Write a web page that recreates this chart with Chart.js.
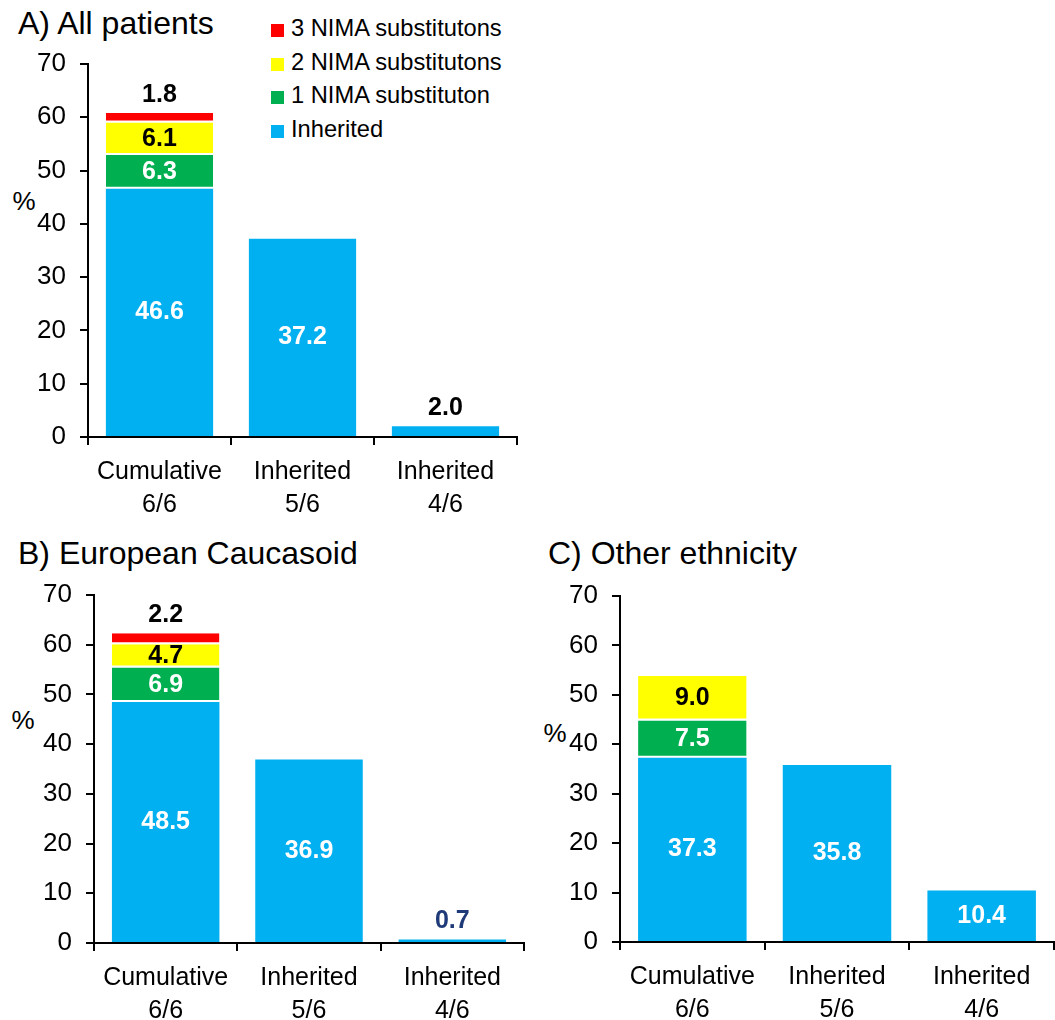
<!DOCTYPE html>
<html>
<head>
<meta charset="utf-8">
<script src="https://cdn.jsdelivr.net/npm/chart.js@4.4.1/dist/chart.umd.min.js"></script>
<style>
  html, body { margin: 0; padding: 0; background: #fff; }
  body { width: 1055px; height: 1020px; position: relative; overflow: hidden;
         font-family: "Liberation Sans", Arial, sans-serif; color: #000; }
  canvas { position: absolute; }
  .title { position: absolute; font-size: 32px; line-height: 36px; white-space: nowrap; }
  .pct { position: absolute; font-size: 26px; line-height: 30px; transform: translate(-50%, -50%); }
  .legend { position: absolute; left: 271px; top: 12px; font-size: 23.7px; }
  .legend div { height: 33.7px; line-height: 33.7px; white-space: nowrap; }
  .legend span.sw { display: inline-block; width: 13px; height: 13px; margin-right: 7px; vertical-align: -1px; }
</style>
</head>
<body>
<div class="title" style="left:18px; top:5px;">A) All patients</div>
<div class="title" style="left:18px; top:535px;">B) European Caucasoid</div>
<div class="title" style="left:548px; top:535px;">C) Other ethnicity</div>
<div class="pct" style="left:24px; top:201px;">%</div>
<div class="pct" style="left:23px; top:720px;">%</div>
<div class="pct" style="left:555px; top:733px;">%</div>
<div class="legend" id="legend"></div>

<canvas id="chartA" width="530" height="525" style="left:0; top:0;"></canvas>
<canvas id="chartB" width="530" height="495" style="left:0; top:525px;"></canvas>
<canvas id="chartC" width="525" height="495" style="left:530px; top:525px;"></canvas>

<script>
// Categories (two-line labels) and y-axis range
const categories = [['Cumulative', '6/6'], ['Inherited', '5/6'], ['Inherited', '4/6']];
const yMin = 0;
const yMax = 70;
const yStep = 10;

// Series names, top of the legend first
const seriesNames = ['3 NIMA substitutons', '2 NIMA substitutons', '1 NIMA substituton', 'Inherited'];

// A) All patients
const allInherited = [46.6, 37.2, 2.0];
const allOneNima   = [6.3, null, null];
const allTwoNima   = [6.1, null, null];
const allThreeNima = [1.8, null, null];

// B) European Caucasoid
const eurInherited = [48.5, 36.9, 0.7];
const eurOneNima   = [6.9, null, null];
const eurTwoNima   = [4.7, null, null];
const eurThreeNima = [2.2, null, null];

// C) Other ethnicity
const othInherited = [37.3, 35.8, 10.4];
const othOneNima   = [7.5, null, null];
const othTwoNima   = [9.0, null, null];
const othThreeNima = [null, null, null];

const BLUE = '#00B0F0', GREEN = '#00B050', YELLOW = '#FFFF00', RED = '#FF0000';
const FONT = '"Liberation Sans", Arial, sans-serif';

// HTML legend
const swatches = [RED, YELLOW, GREEN, BLUE];
document.getElementById('legend').innerHTML = seriesNames.map((n, i) =>
  '<div><span class="sw" style="background:' + swatches[i] + '"></span>' + n + '</div>').join('');

// Value labels: inside the segment when it is tall enough, otherwise above it
const valueLabels = {
  id: 'valueLabels',
  afterDatasetsDraw(chart) {
    const ctx = chart.ctx;
    ctx.save();
    ctx.font = 'bold 25px ' + FONT;
    ctx.textAlign = 'center';
    ctx.textBaseline = 'middle';
    chart.data.datasets.forEach((ds, di) => {
      const meta = chart.getDatasetMeta(di);
      meta.data.forEach((el, i) => {
        const v = ds.data[i];
        if (v === null || v === undefined) return;
        const h = el.base - el.y;
        const txt = v.toFixed(1);
        if (h >= 18) {
          ctx.fillStyle = ds.labelColor;
          ctx.fillText(txt, el.x, (el.y + el.base) / 2);
        } else {
          ctx.fillStyle = ds.outsideColor;
          ctx.fillText(txt, el.x, el.y - 18);
        }
      });
    });
    ctx.restore();
  }
};

function makeChart(id, inherited, one, two, three, geo, smallColor) {
  const seg = (label, data, color, labelColor, outsideColor, bordered) => ({
    label, data, backgroundColor: color,
    borderColor: '#FFFFFF',
    borderWidth: bordered ? { top: 0, left: 0, right: 0, bottom: 2 } : 0,
    borderSkipped: false,
    labelColor, outsideColor
  });
  return new Chart(document.getElementById(id), {
    type: 'bar',
    data: {
      labels: categories,
      datasets: [
        seg(seriesNames[3], inherited, BLUE, '#FFFFFF', smallColor, false),
        seg(seriesNames[2], one, GREEN, '#FFFFFF', '#000000', true),
        seg(seriesNames[1], two, YELLOW, '#000000', '#000000', true),
        seg(seriesNames[0], three, RED, '#000000', '#000000', true)
      ]
    },
    options: {
      responsive: false,
      animation: false,
      events: [],
      categoryPercentage: 1.0,
      barPercentage: 0.75,
      layout: { padding: { top: geo.top, right: geo.right, left: 0, bottom: 0 } },
      plugins: { legend: { display: false }, tooltip: { enabled: false } },
      scales: {
        x: {
          stacked: true,
          afterFit: s => { s.height = geo.xHeight; },
          grid: { offset: true, drawOnChartArea: false, drawTicks: true, tickLength: 8, color: '#000', lineWidth: 2 },
          border: { display: true, color: '#000', width: 2 },
          ticks: { color: '#000', font: { family: FONT, size: 25, lineHeight: 1.3 }, padding: 11,
                   maxRotation: 0, autoSkip: false }
        },
        y: {
          stacked: true,
          min: yMin, max: yMax,
          afterFit: s => { s.width = geo.yWidth; },
          grid: { drawOnChartArea: false, drawTicks: true, tickLength: 8, color: '#000', lineWidth: 2 },
          border: { display: true, color: '#000', width: 2 },
          ticks: { stepSize: yStep, color: '#000', font: { family: FONT, size: 26 }, padding: 14 }
        }
      }
    },
    plugins: [valueLabels]
  });
}

makeChart('chartA', allInherited, allOneNima, allTwoNima, allThreeNima,
  { top: 64, right: 13, xHeight: 88, yWidth: 88 }, '#000000');
makeChart('chartB', eurInherited, eurOneNima, eurTwoNima, eurThreeNima,
  { top: 70, right: 6, xHeight: 77, yWidth: 94 }, '#1F3A78');
makeChart('chartC', othInherited, othOneNima, othTwoNima, othThreeNima,
  { top: 71, right: 1, xHeight: 78, yWidth: 90 }, '#000000');
</script>
</body>
</html>
